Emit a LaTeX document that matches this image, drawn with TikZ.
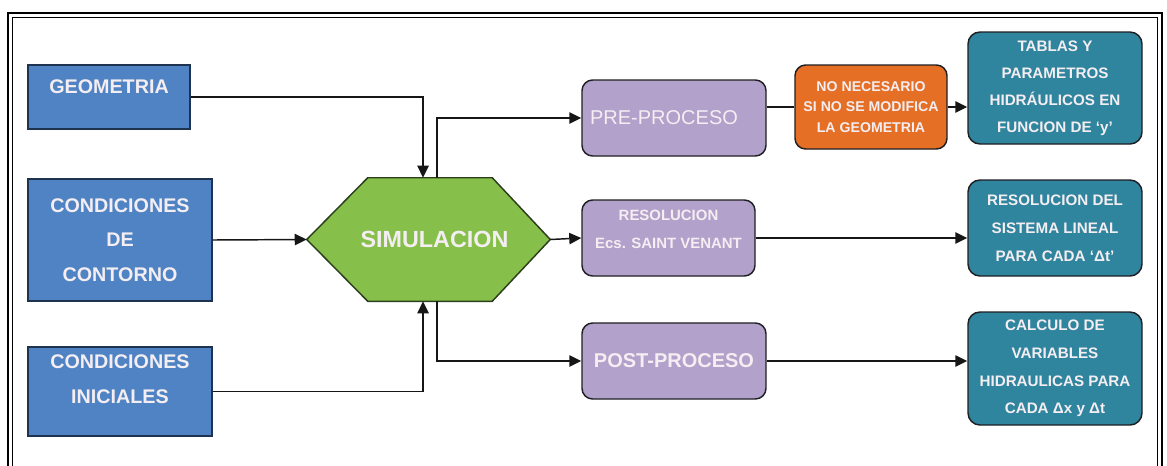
\documentclass[tikz,border=0pt]{standalone}
\usepackage{fontspec}
\setmainfont{Liberation Sans}
\usetikzlibrary{arrows.meta,backgrounds}
\definecolor{bluefill}{HTML}{4F83C3}
\definecolor{blueedge}{HTML}{1E3350}
\definecolor{greenfill}{HTML}{86C04A}
\definecolor{greenedge}{HTML}{2C3E1C}
\definecolor{purplefill}{HTML}{B2A1CA}
\definecolor{orangefill}{HTML}{E56F25}
\definecolor{tealfill}{HTML}{2F849E}
\definecolor{edgedark}{HTML}{1F1F24}
\definecolor{txtlight}{HTML}{F4EEF2}
\definecolor{linecol}{HTML}{161616}
\tikzset{
  box/.style={draw=edgedark, line width=1.1pt, text=txtlight, align=center, inner sep=0pt},
  bluebox/.style={box, draw=blueedge, fill=bluefill, font={\fontsize{14.8}{26}\selectfont\bfseries}},
  purplebox/.style={box, fill=purplefill, rounded corners=8pt},
  orangebox/.style={box, fill=orangefill, rounded corners=8pt, font={\fontsize{10.6}{15.4}\selectfont\bfseries}},
  tealbox/.style={box, fill=tealfill, rounded corners=9pt, font={\fontsize{11.4}{20.3}\selectfont\bfseries}},
  conn/.style={draw=linecol, line width=1.1pt},
  arr/.style={conn, -{Triangle[length=9pt,width=8.5pt]}},
}
\begin{document}
\begin{tikzpicture}[x=0.75pt,y=-0.75pt]
\useasboundingbox (0,0) rectangle (1167,465);
% frame
\draw[line width=2pt] (8,467) -- (8,13) -- (1162,13) -- (1162,467);
\draw[line width=1pt] (12.5,467) -- (12.5,17.5) -- (1157.5,17.5) -- (1157.5,467);

% left blue boxes
\node[bluebox, minimum width=121.5pt, minimum height=48pt, text depth=15pt] (geo) at (109,97) {GEOMETRIA};
\node[bluebox, minimum width=138pt, minimum height=91.5pt] (cont) at (120,240) {CONDICIONES\\DE\\CONTORNO};
\node[bluebox, minimum width=138pt, minimum height=66.75pt] (ini) at (120,391.5) {CONDICIONES\\INICIALES\\[-7pt]\mbox{}};

% hexagon
\node[minimum width=182.25pt, minimum height=92.25pt, inner sep=0pt, text=txtlight, font={\fontsize{17.5}{20}\selectfont\bfseries}] (sim) at (428.5,239.5) {\hspace*{9pt}SIMULACION};
\begin{scope}[on background layer]
\draw[fill=greenfill, draw=greenedge, line width=1.1pt]
  (sim.west) -- ([xshift=45.75pt]sim.north west) -- ([xshift=-43.5pt]sim.north east)
  -- (sim.east) -- ([xshift=-43.5pt]sim.south east) -- ([xshift=45.75pt]sim.south west) -- cycle;
\end{scope}

% purple boxes
\node[purplebox, minimum width=138pt, minimum height=57pt, font={\fontsize{15}{18}\selectfont}] (pre) at (674,118) {PRE-PROCESO\hspace*{15pt}};
\node[purplebox, minimum width=129.75pt, minimum height=57pt, font={\fontsize{11.2}{21}\selectfont\bfseries}] (res) at (668.5,238) {RESOLUCION\\Ecs. SAINT VENANT\\[-8pt]\mbox{}};
\node[purplebox, minimum width=138pt, minimum height=57pt, font={\fontsize{15}{18}\selectfont\bfseries}] (post) at (674,361) {POST-PROCESO};

% orange box
\node[orangebox, minimum width=114pt, minimum height=63pt] (nn) at (871,107) {NO NECESARIO\\SI NO SE MODIFICA\\LA GEOMETRIA};

% teal boxes
\node[tealbox, minimum width=130.5pt, minimum height=84pt] (t1) at (1055,88) {TABLAS Y\\PARAMETROS\\HIDRÁULICOS EN\\FUNCION DE ‘y’};
\node[tealbox, minimum width=130.5pt, minimum height=72pt, font={\fontsize{11.4}{21}\selectfont\bfseries}] (t2) at (1055,228) {RESOLUCION DEL\\SISTEMA LINEAL\\PARA CADA ‘Δt’};
\node[tealbox, minimum width=130.5pt, minimum height=84.75pt, font={\fontsize{11.4}{20.75}\selectfont\bfseries}] (t3) at (1055,368.5) {CALCULO DE\\VARIABLES\\HIDRAULICAS PARA\\CADA Δx y Δt};

% connectors
\draw[arr] (geo.east) -| ([xshift=-4.1pt]sim.north);
\draw[arr] (cont.east) -- (sim.west);
\draw[arr] (ini.east) -| ([xshift=-4.1pt]sim.south);
\draw[arr] ([xshift=6.4pt]sim.north) |- (pre.west);
\draw[arr] ([xshift=6.4pt]sim.south) |- (post.west);
\draw[arr] (sim.east) -- (res.west);
\draw[conn] (nn.west -| pre.east) -- (nn.west);
\draw[arr] (nn.east) -- (nn.east -| t1.west);
\draw[arr] (res.east) -- (res.east -| t2.west);
\draw[arr] (post.east) -- (post.east -| t3.west);
\end{tikzpicture}
\end{document}
